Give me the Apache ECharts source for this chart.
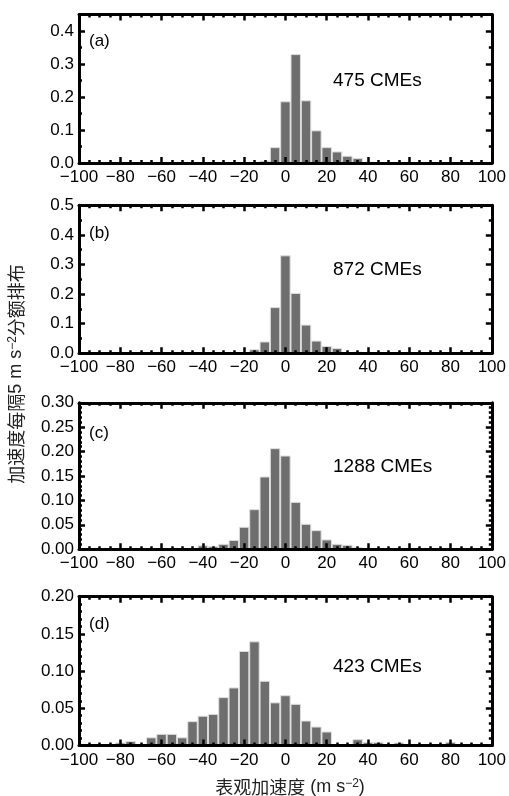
<!DOCTYPE html>
<html>
<head>
<meta charset="utf-8">
<script src="https://cdn.jsdelivr.net/npm/echarts@6/dist/echarts.min.js"></script>
<style>html,body{margin:0;padding:0;background:#fff;}#c{width:509px;height:796px;}</style>
</head>
<body>
<div id="c"></div>
<script>
// ---- data (bin centres in m s^-2, fraction per 5 m s^-2 bin) ----
const binsA = [-10, -5, 0, 5, 10, 15, 20, 25, 30, 35, 40];
const valsA = [0.007, 0.048, 0.187, 0.330, 0.190, 0.099, 0.048, 0.035, 0.022, 0.015, 0.004];

const binsB = [-20, -15, -10, -5, 0, 5, 10, 15, 20, 25, 30, 35];
const valsB = [0.004, 0.0135, 0.040, 0.156, 0.331, 0.204, 0.097, 0.043, 0.025, 0.018, 0.003, 0.006];

const binsC = [-40, -35, -30, -25, -20, -15, -10, -5, 0, 5, 10, 15, 20, 25, 30, 35];
const valsC = [0.008, 0.006, 0.011, 0.019, 0.046, 0.082, 0.149, 0.207, 0.192, 0.097, 0.052, 0.039, 0.020, 0.011, 0.009, 0.004];

const binsD = [-80, -75, -70, -65, -60, -55, -50, -45, -40, -35, -30, -25, -20, -15, -10, -5, 0, 5, 10, 15, 20, 25, 30, 35, 40, 45, 50, 55, 60, 80];
const valsD = [0.004, 0.006, 0.002, 0.011, 0.0157, 0.0157, 0.011, 0.0327, 0.040, 0.0425, 0.065, 0.078, 0.127, 0.140, 0.087, 0.058, 0.0676, 0.056, 0.0336, 0.0255, 0.0188, 0.001, 0.002, 0.0085, 0.0045, 0.0045, 0.002, 0.004, 0.002, 0.005];

const panelLabels = ['(a)', '(b)', '(c)', '(d)'];
const countLabels = ['475 CMEs', '872 CMEs', '1288 CMEs', '423 CMEs'];
const yMaxes = [0.45, 0.5, 0.30, 0.20];
const yIntervals = [0.1, 0.1, 0.05, 0.05];
const yDecimals = [1, 1, 2, 2];
const xMin = -100, xMax = 100, xInterval = 20, binWidth = 5;
const xTitle = '表观加速度';
const yTitleA = '加速度每隔5 m s';
const yTitleB = '分额排布';

// ---- layout ----
const gridLeft = 79, gridWidth = 418.5;
const grids = [
  {top: 14.5, height: 148.5},
  {top: 205.3, height: 148},
  {top: 402.8, height: 146.4},
  {top: 596.7, height: 148.8}
];
const minorSplits = [2, 2, 5, 5];
const labelY = [42, 234, 434, 625];
const countY = [81, 270, 467.5, 667];

const series = [[binsA, valsA], [binsB, valsB], [binsC, valsC], [binsD, valsD]];
const FONT = '"Liberation Sans", Arial, sans-serif';
const CJK = '"Noto Sans CJK SC", "Liberation Sans", sans-serif';

const fmtX = v => v < 0 ? '\u2212' + (-v) : String(v);

const option = {
  animation: false,
  backgroundColor: '#fff',
  grid: grids.map(g => ({left: gridLeft, width: gridWidth, top: g.top, height: g.height, containLabel: false})),
  xAxis: [],
  yAxis: [],
  series: [],
  graphic: []
};

const axisLine = {show: true, onZero: false, lineStyle: {color: '#000', width: 3}};
const tick = {show: true, inside: true, length: 6, lineStyle: {color: '#000', width: 2.5}};

grids.forEach((g, i) => {
  const common = {
    type: 'value', gridIndex: i, min: xMin, max: xMax, interval: xInterval, z: 5,
    axisLine: axisLine, axisTick: tick,
    minorTick: {show: true, splitNumber: 4, length: 3, lineStyle: {color: '#000', width: 2.5}},
    splitLine: {show: false}, minorSplitLine: {show: false}
  };
  option.xAxis.push(Object.assign({}, common, {
    position: 'bottom',
    axisLabel: {show: true, color: '#000', fontFamily: FONT, fontSize: 17, margin: 6, formatter: fmtX}
  }));
  option.xAxis.push(Object.assign({}, common, {position: 'top', axisLabel: {show: false}}));

  const ycommon = {
    type: 'value', gridIndex: i, min: 0, max: yMaxes[i], interval: yIntervals[i], z: 5,
    axisLine: axisLine, axisTick: tick,
    minorTick: {show: true, splitNumber: minorSplits[i], length: 3, lineStyle: {color: '#000', width: 2.5}},
    splitLine: {show: false}, minorSplitLine: {show: false}
  };
  const dec = yDecimals[i];
  option.yAxis.push(Object.assign({}, ycommon, {
    position: 'left',
    axisLabel: {show: true, color: '#000', fontFamily: FONT, fontSize: 17, margin: 5, showMaxLabel: Math.abs(yMaxes[i] / yIntervals[i] - Math.round(yMaxes[i] / yIntervals[i])) < 1e-6,
      formatter: v => v.toFixed(dec)}
  }));
  option.yAxis.push(Object.assign({}, ycommon, {position: 'right', axisLabel: {show: false}}));

  const [bins, vals] = series[i];
  option.series.push({
    type: 'bar',
    xAxisIndex: i * 2,
    yAxisIndex: i * 2,
    barWidth: gridWidth * binWidth / (xMax - xMin),
    data: bins.map((b, k) => [b, vals[k]]),
    itemStyle: {color: '#6e6e6e', borderColor: '#dedede', borderWidth: 1},
    z: 2
  });

  option.graphic.push({
    type: 'text', left: 89, top: labelY[i] - 9, z: 10,
    style: {text: panelLabels[i], font: '17px ' + FONT, fill: '#000'}
  });
  option.graphic.push({
    type: 'text', left: 333, top: countY[i] - 10, z: 10,
    style: {text: countLabels[i], font: '19px ' + FONT, fill: '#000'}
  });
});

// x-axis title
option.graphic.push({
  type: 'text', x: 290, y: 787, z: 10,
  style: {
    text: '{c|' + xTitle + '}{t| (m s}{s|\u22122}{t|)}',
    align: 'center', verticalAlign: 'middle',
    rich: {
      c: {fontFamily: CJK, fontSize: 18, fill: '#222'},
      t: {fontFamily: FONT, fontSize: 18, fill: '#222'},
      s: {fontFamily: FONT, fontSize: 12, fill: '#222', verticalAlign: 'top', padding: [0, 0, 0, 0]}
    }
  }
});
// y-axis title (rotated)
option.graphic.push({
  type: 'text', x: 16, y: 374, rotation: Math.PI / 2, z: 10,
  style: {
    text: '{c|加速度每隔}{t|5 m s}{s|\u22122}{c|' + yTitleB + '}',
    align: 'center', verticalAlign: 'middle',
    rich: {
      c: {fontFamily: CJK, fontSize: 18, fill: '#222'},
      t: {fontFamily: FONT, fontSize: 18, fill: '#222'},
      s: {fontFamily: FONT, fontSize: 12, fill: '#222', verticalAlign: 'top'}
    }
  }
});

const chart = echarts.init(document.getElementById('c'), null, {renderer: 'canvas'});
chart.setOption(option);
</script>
</body>
</html>
